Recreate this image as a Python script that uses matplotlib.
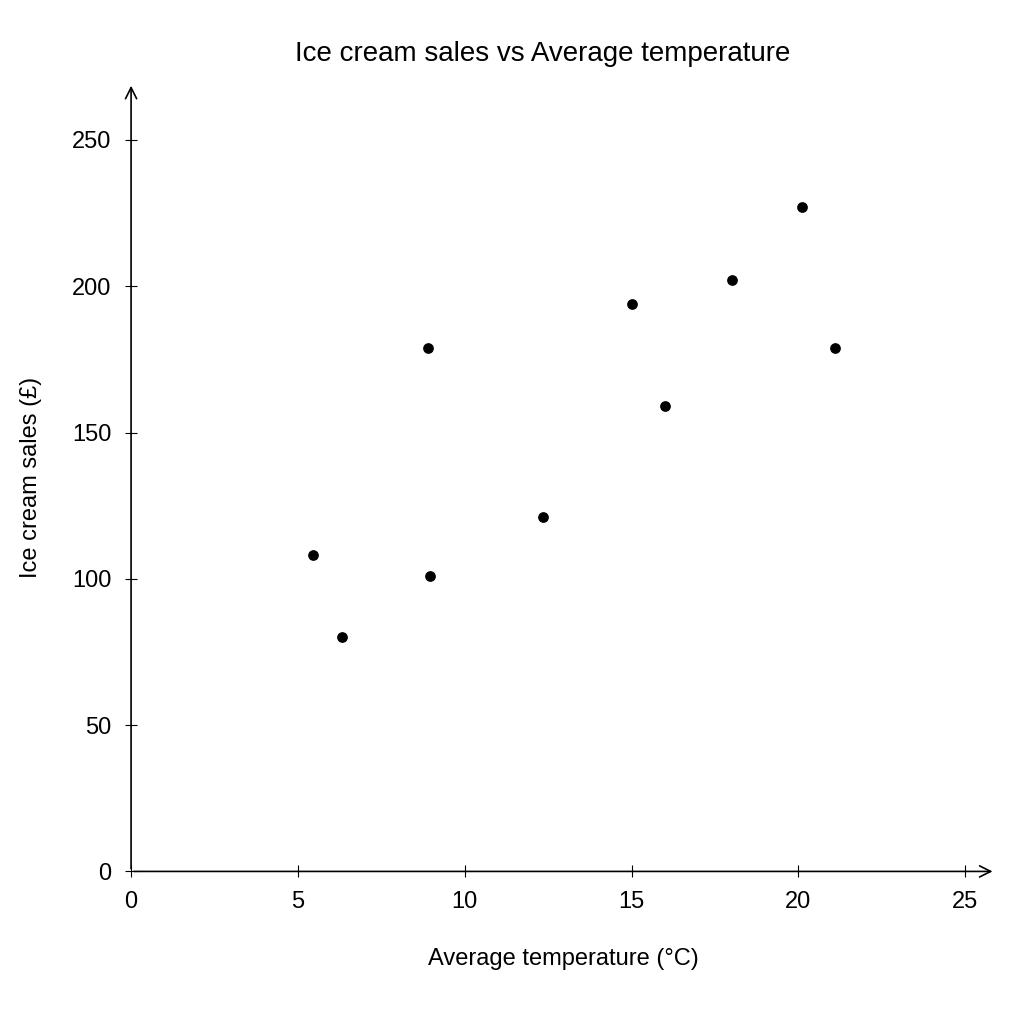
import matplotlib.pyplot as plt

plt.rcParams["font.family"] = ["Liberation Sans", "DejaVu Sans"]

temperature = [5.45, 6.33, 8.9, 8.97, 12.33, 15.0, 16.0, 18.0, 20.1, 21.1]
sales = [108, 80, 179, 101, 121, 194, 159, 202, 227, 179]

fig = plt.figure(figsize=(10.24, 10.24), dpi=100)
ax = fig.add_axes([0.128, 0.149, 0.844, 0.77])
ax.scatter(temperature, sales, s=45, color="black", zorder=3)

ax.set_xlim(0, 25.9)
ax.set_ylim(0, 269.5)
ax.set_xticks([0, 5, 10, 15, 20, 25])
ax.set_yticks([0, 50, 100, 150, 200, 250])
ax.tick_params(labelsize=17, length=8, direction="inout", pad=10)
for s in ax.spines.values():
    s.set_visible(False)
ax.annotate("", xy=(1, 0), xytext=(0, 0), xycoords="axes fraction",
            arrowprops=dict(arrowstyle="->", color="black", lw=1.2, mutation_scale=20))
ax.annotate("", xy=(0, 1), xytext=(0, 0), xycoords="axes fraction",
            arrowprops=dict(arrowstyle="->", color="black", lw=1.2, mutation_scale=20))

ax.set_xlabel("Average temperature (°C)", fontsize=17, labelpad=25)
ax.set_ylabel("Ice cream sales (£)", fontsize=17, labelpad=22)
fig.text(0.53, 0.94, "Ice cream sales vs Average temperature", fontsize=20, ha="center")

fig.savefig("out.png")
